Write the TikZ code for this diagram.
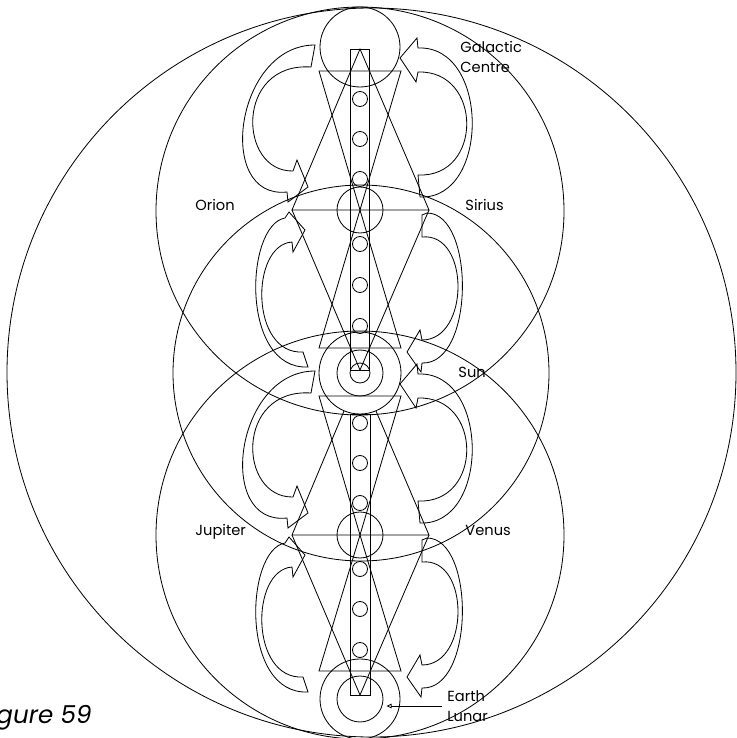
\documentclass[tikz,border=0pt]{standalone}
\usepackage{fontspec}
\setmainfont{Poppins}
\usetikzlibrary{arrows.meta}

\tikzset{
  station/.style={draw, circle, inner sep=0pt},
  bead/.style={draw, circle, inner sep=0pt, minimum size=0.45cm},
  starname/.style={inner sep=0pt, anchor=base west, font=\fontsize{12.5}{17}\selectfont},
  pointer/.style={-{Triangle[open, length=4.5pt, width=4pt]}},
  % flow arrows: left side down, right side up
  pics/swirldown/.style={code={
    \draw (-45,-2) .. controls (-125,-2) and (-145,153) .. (-73,145) -- (-72,155) -- (-52,140)
      -- (-63,113) -- (-67,124) .. controls (-122,125) and (-125,15) .. (-49,20) -- cycle;
    \draw (40,11) -- (57,-9) -- (58,1) .. controls (130,-2) and (130,153) .. (60,150)
      -- (58,128) .. controls (123,131) and (123,23) .. (58,25) -- (56,35) -- cycle;
  }},
  % flow arrows: left side up, right side down
  pics/swirlup/.style={code={
    \draw (-71,2) -- (-55,20) -- (-67,42) -- (-68,32) .. controls (-110,35) and (-110,145) .. (-57,142)
      -- (-52,157) .. controls (-120,160) and (-115,15) .. (-75,8) -- cycle;
    \draw (62,5) -- (67,3) .. controls (115,3) and (115,155) .. (62,153) -- (61,162) -- (47,142)
      -- (60,120) -- (62,130) .. controls (110,130) and (110,22) .. (62,27) -- cycle;
  }}
}

\begin{document}
\begin{tikzpicture}[x=0.03cm, y=-0.03cm, line width=0.7pt]

% Page
\fill[white] (0,0) rectangle (736,738);
\useasboundingbox (0,0) rectangle (736,738);

% Large circles
\draw (371.5,372.5) circle[radius=364.5];
\draw (360,211) circle[radius=204];
\draw (361,373) circle[radius=188];
\draw (360,535) circle[radius=204];

% Stations on the axis
\node[station, minimum size=2.4cm] (gc) at (360,47) {};
\node[station, minimum size=1.38cm] (orion) at (360,210) {};
\node[station, minimum size=2.46cm] (sun) at (360,373) {};
\node[station, minimum size=1.38cm] (sunmid) at (sun) {};
\node[station, minimum size=0.6cm] (suncore) at (sun) {};
\node[station, minimum size=1.38cm] (jupiter) at (360,535) {};
\node[station, minimum size=2.4cm] (earth) at (360,699) {};
\node[station, minimum size=1.38cm] (earthin) at (earth) {};

% Column with beads
\draw (350,49) rectangle (369,370);
\draw (350,414) rectangle (370,695);
\foreach \y in {99,139,179,244,285,326,423,463,503,569,609,650}
  \node[bead] (b\y) at (360,\y) {};

% Triangles
\draw (360,49) -- (292,210) -- (429,210) -- cycle;
\draw (319,71) -- (401,71) -- (360,210) -- cycle;
\draw (292,210) -- (360,370) -- (429,210);
\draw (319,348) -- (401,348) -- (360,210) -- cycle;
\draw (319,396) -- (401,396) -- (360,535) -- cycle;
\draw (344,411) -- (292,535) -- (429,535) -- (376,411);
\draw (292,535) -- (360,695) -- (429,535);
\draw (319,671) -- (401,671) -- (360,535) -- cycle;

% Flow arrows
\pic at (gc) {swirldown};
\pic at (orion) {swirlup};
\pic at (sun) {swirldown};
\pic at (jupiter) {swirlup};

% Labels
\node[starname] (gclbl) at (460,53) {Galactic};
\node[starname] (gclbl2) at (460,73) {Centre};
\node[starname] (orionlbl) at (195,211) {Orion};
\node[starname] (siriuslbl) at (465,211) {Sirius};
\node[starname] (sunlbl) at (458,377) {Sun};
\node[starname] (jupiterlbl) at (195,535) {Jupiter};
\node[starname] (venuslbl) at (465,535) {Venus};
\node[starname, anchor=west, align=left, inner xsep=0.15cm] (earthlbl) at (442,706) {Earth\\Lunar};
\draw[pointer, shorten >=0.09cm] (earthlbl.west) -- (earthlbl.west -| earthin.east);

\node[anchor=base east, font=\itshape\fontsize{21}{25}\selectfont, inner sep=0pt] (figlbl) at (92,723) {Figure 59};

\end{tikzpicture}
\end{document}
